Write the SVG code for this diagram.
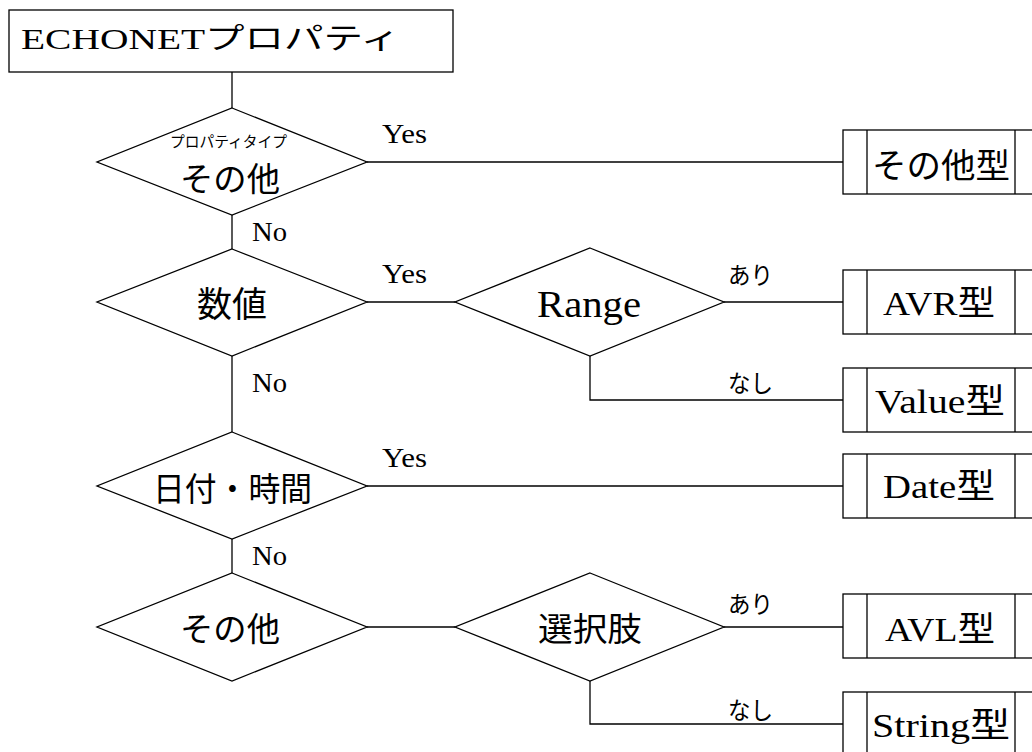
<svg xmlns="http://www.w3.org/2000/svg" width="1032" height="752" viewBox="0 0 1032 752">
<style>
.s{fill:#fff;stroke:#000;stroke-width:1.3}
.l{fill:none;stroke:#000;stroke-width:1.3}
.ser{font-family:"Liberation Serif","Noto Sans CJK JP",serif;fill:#000}
.sans{font-family:"Noto Sans CJK JP","Noto Sans",sans-serif;fill:#000}
.yn{font-size:28px}
</style>
<rect width="1032" height="752" fill="#fff"/>
<g id="connectors">
<line class="l" x1="232" y1="72" x2="232" y2="108"/>
<line class="l" x1="232" y1="215" x2="232" y2="249"/>
<line class="l" x1="232" y1="356" x2="232" y2="432"/>
<line class="l" x1="232" y1="539" x2="232" y2="573"/>
<line class="l" x1="367" y1="162" x2="843" y2="162"/>
<line class="l" x1="367" y1="302" x2="455" y2="302"/>
<line class="l" x1="724" y1="302" x2="843" y2="302"/>
<polyline class="l" points="590,356 590,400 843,400"/>
<line class="l" x1="367" y1="486" x2="843" y2="486"/>
<line class="l" x1="367" y1="627" x2="455" y2="627"/>
<line class="l" x1="724" y1="627" x2="843" y2="627"/>
<polyline class="l" points="590,681 590,724 843,724"/>
<text class="ser yn" x="382" y="143" textLength="45" lengthAdjust="spacingAndGlyphs">Yes</text>
<text class="ser yn" x="252" y="241" textLength="35" lengthAdjust="spacingAndGlyphs">No</text>
<text class="ser yn" x="382" y="283" textLength="45" lengthAdjust="spacingAndGlyphs">Yes</text>
<text class="ser yn" x="252" y="392" textLength="35" lengthAdjust="spacingAndGlyphs">No</text>
<text class="ser yn" x="382" y="467" textLength="45" lengthAdjust="spacingAndGlyphs">Yes</text>
<text class="ser yn" x="252" y="565" textLength="35" lengthAdjust="spacingAndGlyphs">No</text>
<text class="sans" x="728" y="284" font-size="24" textLength="45" lengthAdjust="spacingAndGlyphs">あり</text>
<text class="sans" x="728" y="392" font-size="24" textLength="45" lengthAdjust="spacingAndGlyphs">なし</text>
<text class="sans" x="728" y="613" font-size="24" textLength="45" lengthAdjust="spacingAndGlyphs">あり</text>
<text class="sans" x="728" y="719" font-size="24" textLength="45" lengthAdjust="spacingAndGlyphs">なし</text>
</g>
<g id="start">
<rect class="s" x="9" y="10" width="444" height="62"/>
<text class="ser" x="21" y="49" font-size="29" textLength="379" lengthAdjust="spacingAndGlyphs">ECHONETプロパティ</text>
</g>
<g id="d-other-type">
<polygon class="s" points="232,108 367,162 232,215 97,162"/>
<text class="sans" x="170" y="147" font-size="15" textLength="117" lengthAdjust="spacingAndGlyphs">プロパティタイプ</text>
<text class="sans" x="180" y="191" font-size="33" textLength="100" lengthAdjust="spacingAndGlyphs">その他</text>
</g>
<g id="d-number">
<polygon class="s" points="232,249 367,302 232,356 97,302"/>
<text class="sans" x="197" y="317" font-size="35" textLength="70" lengthAdjust="spacingAndGlyphs">数値</text>
</g>
<g id="d-range">
<polygon class="s" points="590,248 724,302 590,356 455,302"/>
<text class="ser" x="537" y="317" font-size="37" textLength="104" lengthAdjust="spacingAndGlyphs">Range</text>
</g>
<g id="d-datetime">
<polygon class="s" points="232,432 367,486 232,539 97,486"/>
<text class="sans" x="153" y="501" font-size="33" textLength="159" lengthAdjust="spacingAndGlyphs">日付・時間</text>
</g>
<g id="d-other">
<polygon class="s" points="232,573 367,627 232,681 97,627"/>
<text class="sans" x="180" y="641" font-size="33" textLength="100" lengthAdjust="spacingAndGlyphs">その他</text>
</g>
<g id="d-choice">
<polygon class="s" points="590,573 724,627 590,681 455,627"/>
<text class="sans" x="538" y="641" font-size="33" textLength="104" lengthAdjust="spacingAndGlyphs">選択肢</text>
</g>
<g id="b-other">
<rect class="s" x="843" y="130" width="200" height="64"/>
<line class="l" x1="867" y1="130" x2="867" y2="194"/><line class="l" x1="1015" y1="130" x2="1015" y2="194"/>
<text class="sans" x="872" y="178" font-size="34" textLength="138" lengthAdjust="spacingAndGlyphs">その他型</text>
</g>
<g id="b-avr">
<rect class="s" x="843" y="270" width="200" height="64"/>
<line class="l" x1="867" y1="270" x2="867" y2="334"/><line class="l" x1="1015" y1="270" x2="1015" y2="334"/>
<text class="ser" x="883" y="315" font-size="34" textLength="112" lengthAdjust="spacingAndGlyphs">AVR型</text>
</g>
<g id="b-value">
<rect class="s" x="843" y="368" width="200" height="64"/>
<line class="l" x1="867" y1="368" x2="867" y2="432"/><line class="l" x1="1015" y1="368" x2="1015" y2="432"/>
<text class="ser" x="875" y="413" font-size="34" textLength="130" lengthAdjust="spacingAndGlyphs">Value型</text>
</g>
<g id="b-date">
<rect class="s" x="843" y="454" width="200" height="64"/>
<line class="l" x1="867" y1="454" x2="867" y2="518"/><line class="l" x1="1015" y1="454" x2="1015" y2="518"/>
<text class="ser" x="883" y="498" font-size="34" textLength="112" lengthAdjust="spacingAndGlyphs">Date型</text>
</g>
<g id="b-avl">
<rect class="s" x="843" y="594" width="200" height="64"/>
<line class="l" x1="867" y1="594" x2="867" y2="658"/><line class="l" x1="1015" y1="594" x2="1015" y2="658"/>
<text class="ser" x="885" y="641" font-size="34" textLength="110" lengthAdjust="spacingAndGlyphs">AVL型</text>
</g>
<g id="b-string">
<rect class="s" x="843" y="692" width="200" height="64"/>
<line class="l" x1="867" y1="692" x2="867" y2="756"/><line class="l" x1="1015" y1="692" x2="1015" y2="756"/>
<text class="ser" x="872" y="737" font-size="34" textLength="138" lengthAdjust="spacingAndGlyphs">String型</text>
</g>
</svg>
